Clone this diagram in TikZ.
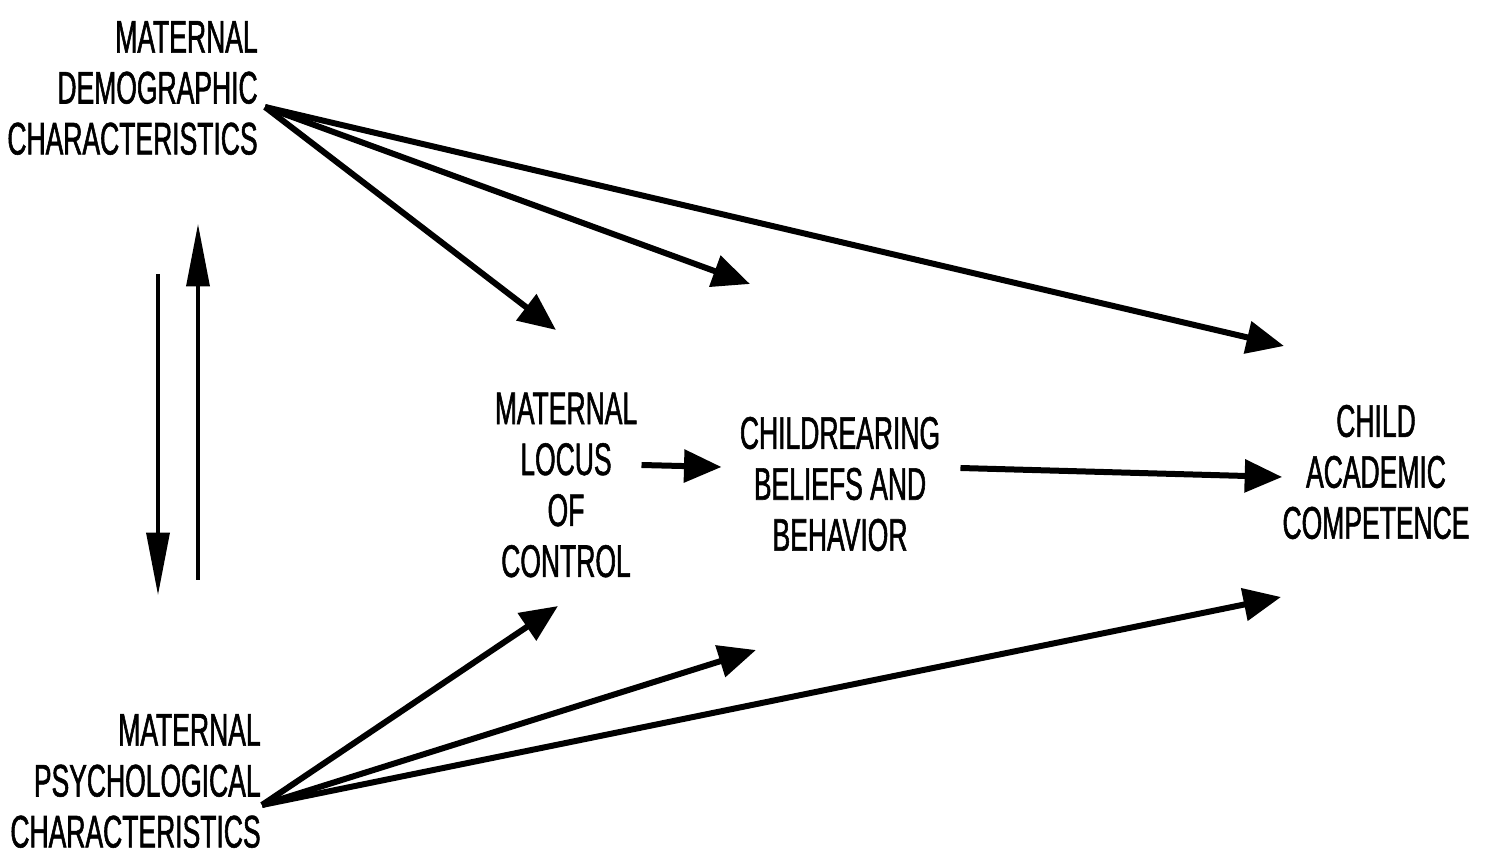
\documentclass[tikz,border=0pt]{standalone}
\usepackage{fontspec}
\newfontfamily\labfont[FakeStretch=0.58,FakeBold=1.2]{Liberation Sans}
\usetikzlibrary{arrows.meta,positioning,calc}

\tikzset{
  lab/.style={font=\labfont\fontsize{26}{29}\selectfont, inner sep=0pt},
  path/.style={line width=0.12cm, -{Triangle[length=0.75cm,width=0.64cm]}},
  link/.style={line width=0.07cm, -{Triangle[length=1.25cm,width=0.46cm]}}
}

\begin{document}
\begin{tikzpicture}[x=0.02cm,y=-0.02cm]
  \useasboundingbox (0,0) rectangle (1487,857);

  \node[lab,align=right,anchor=east] (demog) at (258,88)
    {MATERNAL\\DEMOGRAPHIC\\CHARACTERISTICS};
  \node[lab,align=right,anchor=east] (psych) at (261,781)
    {MATERNAL\\PSYCHOLOGICAL\\CHARACTERISTICS};
  \node[lab,align=center] (locus) at (566,485)
    {MATERNAL\\LOCUS\\OF\\CONTROL};
  \node[lab,align=center] (beliefs) at (840,484)
    {CHILDREARING\\BELIEFS AND\\BEHAVIOR};
  \node[lab,align=center] (child) at (1376,472)
    {CHILD\\ACADEMIC\\COMPETENCE};

  % where the arrows start and stop
  \coordinate (dsrc) at (265,107);
  \coordinate (psrc) at (262,805);
  \coordinate (dlocus) at (556,330);
  \coordinate (dbeliefs) at (750,284);
  \coordinate (dchild) at (1284,346);
  \coordinate (plocus) at (558,606);
  \coordinate (pbeliefs) at (756,650);
  \coordinate (pchild) at (1281,597);

  \draw[path] (dsrc) -- (dlocus);
  \draw[path] (dsrc) -- (dbeliefs);
  \draw[path] (dsrc) -- (dchild);
  \draw[path] (psrc) -- (plocus);
  \draw[path] (psrc) -- (pbeliefs);
  \draw[path] (psrc) -- (pchild);

  \draw[path] ($(locus.east)+(4,-20)$) -- ++(80,2);
  \draw[path] ($(beliefs.east)+(20,-16)$) -- (child.west |- 0,477);

  %% the two way link between the maternal characteristics
  \draw[link] (158,274) -- (158,595);
  \draw[link] (198,580) -- (198,224);

\end{tikzpicture}
\end{document}
